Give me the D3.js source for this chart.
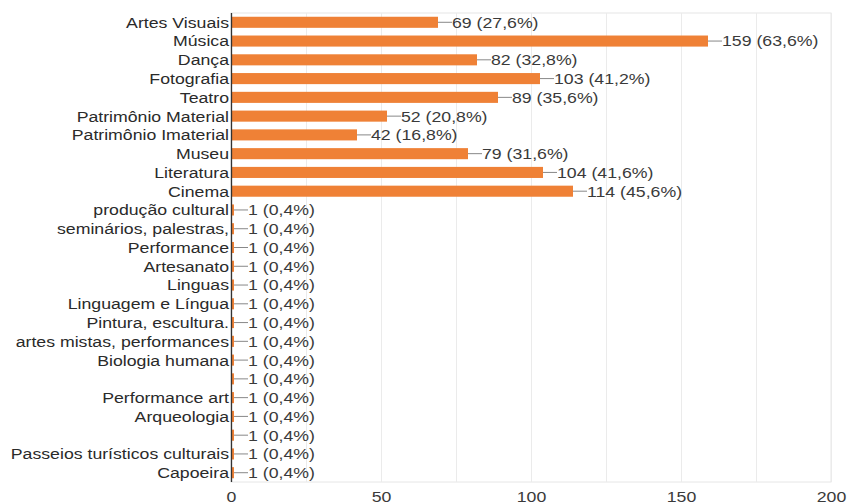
<!DOCTYPE html>
<html><head><meta charset="utf-8">
<script src="https://cdn.jsdelivr.net/npm/d3@7"></script>
<style>body{margin:0;background:#fff}svg{display:block}</style>
</head><body>
<svg id="c" width="847" height="504"></svg>
<script>
const categories = ["Artes Visuais","Música","Dança","Fotografia","Teatro","Patrimônio Material","Patrimônio Imaterial","Museu","Literatura","Cinema","produção cultural","seminários, palestras,","Performance","Artesanato","Linguas","Linguagem e Língua","Pintura, escultura.","artes mistas, performances","Biologia humana","","Performance art","Arqueologia","","Passeios turísticos culturais","Capoeira"];
const values = [69,159,82,103,89,52,42,79,104,114,1,1,1,1,1,1,1,1,1,1,1,1,1,1,1];
const percents = ["27,6%","63,6%","32,8%","41,2%","35,6%","20,8%","16,8%","31,6%","41,6%","45,6%","0,4%","0,4%","0,4%","0,4%","0,4%","0,4%","0,4%","0,4%","0,4%","0,4%","0,4%","0,4%","0,4%","0,4%","0,4%"];
const xTicks = [0,50,100,150,200];
const gridTicks = [25,50,75,100,125,150,175,200];

const data = categories.map((c,i)=>({i, c, v: values[i], p: percents[i]}));
const svg = d3.select("#c");
const x = d3.scaleLinear().domain([0,200]).range([231,831]);
const y = d3.scaleBand().domain(data.map(d=>d.i)).range([13,482]).paddingInner(0.41).paddingOuter(0.2);
const SX = 1.18, FS = 15, font = "Liberation Sans, Arial, sans-serif";

// frame
svg.append("rect").attr("x",231).attr("y",13).attr("width",x(200)-231).attr("height",469)
  .attr("fill","none").attr("stroke","#e6e6e6");
// gridlines
svg.append("g").selectAll("line").data(gridTicks).join("line")
  .attr("x1",d=>x(d)+0.5).attr("x2",d=>x(d)+0.5).attr("y1",13).attr("y2",482)
  .attr("stroke","#ebebeb");
// bars
svg.append("g").selectAll("rect").data(data).join("rect")
  .attr("x",x(0)).attr("y",d=>y(d.i)).attr("width",d=>x(d.v)-x(0)).attr("height",y.bandwidth())
  .attr("fill","#ef8136");
// connectors
svg.append("g").selectAll("line").data(data).join("line")
  .attr("x1",d=>x(d.v)).attr("x2",d=>x(d.v)+14)
  .attr("y1",d=>y(d.i)+y.bandwidth()/2).attr("y2",d=>y(d.i)+y.bandwidth()/2)
  .attr("stroke","#888").attr("stroke-width",1);
// value labels
svg.append("g").selectAll("text").data(data).join("text")
  .attr("transform",d=>`translate(${x(d.v)+14},${y(d.i)+y.bandwidth()/2}) scale(${SX},1)`)
  .attr("dy","0.36em").attr("font-family",font).attr("font-size",FS).attr("fill","#3a3a3a")
  .text(d=>`${d.v} (${d.p})`);
// y axis
const yAxis = d3.axisLeft(y).tickSize(0).tickPadding(0).tickFormat(i=>categories[i]);
const ga = svg.append("g").attr("transform",`translate(${x(0)},0)`).call(yAxis);
ga.select(".domain").remove();
ga.selectAll(".tick text").attr("x",null).attr("dy",null)
  .attr("transform",`translate(-2,0) scale(${SX},1)`)
  .attr("dy","0.36em").attr("font-family",font).attr("font-size",FS).attr("fill","#2a2a2a");
svg.append("line").attr("x1",x(0)+0.5).attr("x2",x(0)+0.5).attr("y1",13).attr("y2",482)
  .attr("stroke","#333").attr("stroke-width",1.3);
// x axis
const xAxis = d3.axisBottom(x).tickValues(xTicks).tickSize(0).tickPadding(0);
const gx = svg.append("g").attr("transform",`translate(0,482)`).call(xAxis);
gx.select(".domain").remove();
gx.selectAll(".tick text").attr("y",null).attr("dy",null)
  .attr("transform",`translate(0,20) scale(${SX},1)`)
  .attr("font-family",font).attr("font-size",FS).attr("fill","#3a3a3a");
</script>
</body></html>
